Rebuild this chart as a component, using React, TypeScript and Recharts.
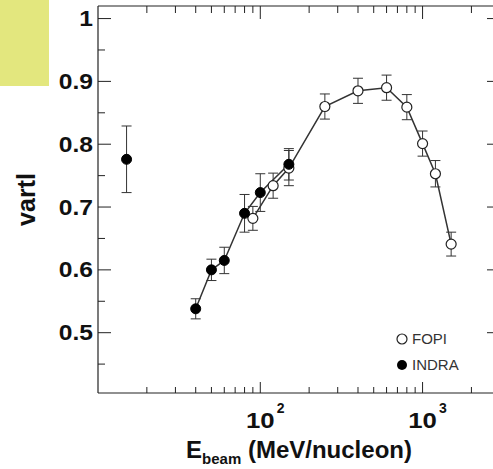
import React from 'react';
import { ComposedChart, Line, XAxis, YAxis, ErrorBar, Legend } from 'recharts';

// FOPI (open circles)
const fopiEnergy = [90, 120, 150, 250, 400, 600, 800, 1000, 1200, 1500];
const fopiVartl = [0.682, 0.734, 0.762, 0.86, 0.885, 0.89, 0.859, 0.801, 0.753, 0.641];
const fopiErr = [0.019, 0.02, 0.028, 0.02, 0.02, 0.02, 0.02, 0.02, 0.021, 0.019];

// INDRA (filled circles)
const indraEnergy = [40, 50, 60, 80, 100, 150];
const indraVartl = [0.538, 0.6, 0.615, 0.69, 0.723, 0.768];
const indraErr = [0.016, 0.017, 0.021, 0.03, 0.03, 0.025];

// isolated low-energy INDRA point
const indraLowEnergy = [15];
const indraLowVartl = [0.776];
const indraLowErr = [0.053];

const xTicks = [20, 30, 40, 50, 60, 70, 80, 90, 100, 200, 300, 400, 500, 600, 700, 800, 900, 1000, 2000];
const yTicks = [0.45, 0.5, 0.55, 0.6, 0.65, 0.7, 0.75, 0.8, 0.85, 0.9, 0.95, 1];
const xMajor = [100, 1000];
const xMajorExp = ['2', '3'];

const toRows = (e: number[], v: number[], err: number[]) =>
  e.map((x, i) => ({ e: x, v: v[i], err: err[i] }));

const fopi = toRows(fopiEnergy, fopiVartl, fopiErr);
const indra = toRows(indraEnergy, indraVartl, indraErr);
const indraLow = toRows(indraLowEnergy, indraLowVartl, indraLowErr);

const FONT = '"Liberation Sans", Arial, Helvetica, sans-serif';
const INK = '#222';

const isMajorY = (v: number) => Math.abs(v * 10 - Math.round(v * 10)) < 1e-6;

const BottomTick = (props: any) => {
  const { x, y, payload } = props;
  const idx = xMajor.indexOf(payload.value);
  const major = idx >= 0;
  return (
    <g>
      <line x1={x} x2={x} y1={y} y2={y - (major ? 11 : 6)} stroke={INK} strokeWidth={1} />
      {major && (
        <text
          transform={`translate(${x},${y + 35}) scale(1.12,1)`}
          textAnchor="middle"
          fontFamily={FONT}
          fontWeight="bold"
          fontSize={23}
          fill="#111"
        >
          10
        </text>
      )}
      {major && (
        <text x={x + 16.5} y={y + 19.5} fontFamily={FONT} fontWeight="bold" fontSize={14} fill="#111">
          {xMajorExp[idx]}
        </text>
      )}
    </g>
  );
};

const TopTick = (props: any) => {
  const { x, y, payload } = props;
  const major = xMajor.indexOf(payload.value) >= 0;
  return <line x1={x} x2={x} y1={y} y2={y + (major ? 13 : 7)} stroke={INK} strokeWidth={1} />;
};

const LeftTick = (props: any) => {
  const { x, y, payload } = props;
  const major = isMajorY(payload.value);
  return (
    <g>
      <line x1={x} x2={x + (major ? 13 : 7)} y1={y} y2={y} stroke={INK} strokeWidth={1} />
      {major && (
        <text
          transform={`translate(${x - 5},${y + 7.5}) scale(1.12,1)`}
          textAnchor="end"
          fontFamily={FONT}
          fontWeight="bold"
          fontSize={22}
          fill="#111"
        >
          {String(Math.round(payload.value * 10) / 10)}
        </text>
      )}
    </g>
  );
};

const RightTick = (props: any) => {
  const { x, y, payload } = props;
  const major = isMajorY(payload.value);
  return <line x1={x} x2={x - (major ? 13 : 7)} y1={y} y2={y} stroke={INK} strokeWidth={1} />;
};

const XTitle = (props: any) => {
  const vb = props.viewBox || { x: 98, width: 402, y: 393 };
  return (
    <text x={vb.x + vb.width / 2} y={458} textAnchor="middle" fontFamily={FONT} fontWeight="bold" fill="#111">
      <tspan fontSize={24}>E</tspan>
      <tspan fontSize={15} dy={6}>beam</tspan>
      <tspan fontSize={24} dy={-6}> (MeV/nucleon)</tspan>
    </text>
  );
};

const YTitle = (props: any) => {
  const vb = props.viewBox || { y: 6, height: 387 };
  const cy = vb.y + vb.height / 2;
  return (
    <text
      x={26}
      y={cy}
      transform={`rotate(-90, 26, ${cy})`}
      textAnchor="middle"
      dominantBaseline="central"
      fontFamily={FONT}
      fontWeight="bold"
      fontSize={25}
      fill="#111"
    >
      vartl
    </text>
  );
};

const LegendBox = () => (
  <div style={{ fontFamily: FONT, fontSize: 15, color: '#333', lineHeight: '26px' }}>
    <div style={{ display: 'flex', alignItems: 'center' }}>
      <svg width={14} height={14}>
        <circle cx={7} cy={7} r={5} fill="#fff" stroke={INK} strokeWidth={1.2} />
      </svg>
      <span style={{ marginLeft: 3 }}>FOPI</span>
    </div>
    <div style={{ display: 'flex', alignItems: 'center' }}>
      <svg width={14} height={14}>
        <circle cx={7} cy={7} r={5} fill="#000" />
      </svg>
      <span style={{ marginLeft: 3 }}>INDRA</span>
    </div>
  </div>
);

export default function App() {
  return (
    <div style={{ position: 'absolute', left: 0, top: 0, width: 493, height: 469, background: '#fff' }}>
      <div style={{ position: 'absolute', left: 0, top: 0, width: 49, height: 86, background: '#e3e77e' }} />
      <ComposedChart width={493} height={469} margin={{ top: 5, right: -8, left: 0, bottom: 0 }}>
        <XAxis
          dataKey="e"
          type="number"
          scale="log"
          domain={[10, 3000]}
          ticks={xTicks}
          interval={0}
          allowDataOverflow
          height={76}
          tickSize={0}
          tickMargin={0}
          tickLine={false}
          axisLine={{ stroke: INK, strokeWidth: 1.2 }}
          tick={<BottomTick />}
          label={<XTitle />}
        />
        <XAxis
          xAxisId="top"
          orientation="top"
          dataKey="e"
          type="number"
          scale="log"
          domain={[10, 3000]}
          ticks={xTicks}
          interval={0}
          allowDataOverflow
          height={1}
          tickSize={0}
          tickMargin={0}
          tickLine={false}
          axisLine={{ stroke: INK, strokeWidth: 1.2 }}
          tick={<TopTick />}
        />
        <YAxis
          dataKey="v"
          type="number"
          domain={[0.404, 1.02]}
          ticks={yTicks}
          interval={0}
          allowDataOverflow
          width={98}
          tickSize={0}
          tickMargin={0}
          tickLine={false}
          axisLine={{ stroke: INK, strokeWidth: 1.2 }}
          tick={<LeftTick />}
          label={<YTitle />}
        />
        <YAxis
          yAxisId="right"
          orientation="right"
          dataKey="v"
          type="number"
          domain={[0.404, 1.02]}
          ticks={yTicks}
          interval={0}
          allowDataOverflow
          width={1}
          tickSize={0}
          tickMargin={0}
          tickLine={false}
          axisLine={{ stroke: INK, strokeWidth: 1.2 }}
          tick={<RightTick />}
        />
        <Legend
          layout="vertical"
          align="center"
          verticalAlign="middle"
          content={<LegendBox />}
          wrapperStyle={{ left: 395, top: 326, width: 90 }}
        />
        {/* hidden series that ties the frame axes (top / right) to the data */}
        <Line
          data={fopi}
          dataKey="v"
          xAxisId="top"
          yAxisId="right"
          stroke="none"
          dot={false}
          activeDot={false}
          legendType="none"
          isAnimationActive={false}
        />
        <Line
          data={fopi}
          dataKey="v"
          name="FOPI"
          stroke="#333"
          strokeWidth={1.5}
          dot={{ r: 5, fill: '#fff', stroke: INK, strokeWidth: 1.2 }}
          activeDot={false}
          isAnimationActive={false}
        >
          <ErrorBar dataKey="err" width={5} stroke="#333" strokeWidth={1} direction="y" />
        </Line>
        <Line
          data={indra}
          dataKey="v"
          name="INDRA"
          stroke="#333"
          strokeWidth={1.5}
          dot={{ r: 5, fill: '#000', stroke: '#000', strokeWidth: 1 }}
          activeDot={false}
          isAnimationActive={false}
        >
          <ErrorBar dataKey="err" width={5} stroke="#333" strokeWidth={1} direction="y" />
        </Line>
        <Line
          data={indraLow}
          dataKey="v"
          name="INDRA low"
          stroke="#333"
          strokeWidth={1.5}
          dot={{ r: 5, fill: '#000', stroke: '#000', strokeWidth: 1 }}
          activeDot={false}
          legendType="none"
          isAnimationActive={false}
        >
          <ErrorBar dataKey="err" width={5} stroke="#333" strokeWidth={1} direction="y" />
        </Line>
      </ComposedChart>
    </div>
  );
}
